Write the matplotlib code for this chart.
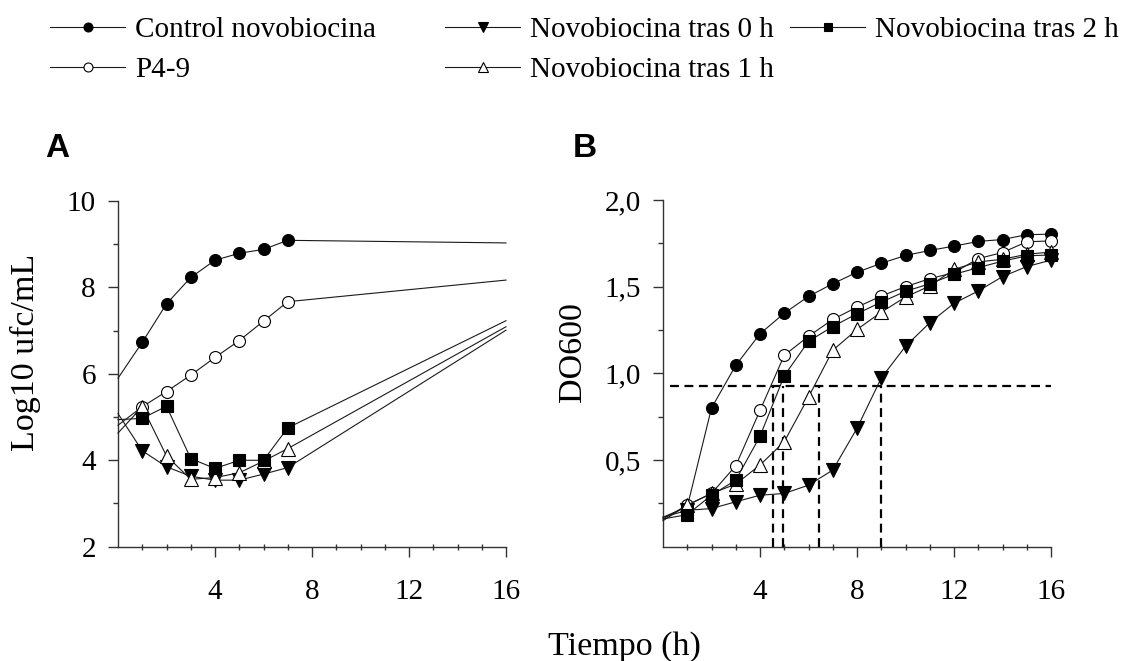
import matplotlib
matplotlib.use("Agg")
import matplotlib.pyplot as plt
from matplotlib.lines import Line2D
from matplotlib.ticker import FixedLocator, FuncFormatter

# ---------------- data ----------------
hours = [0, 1, 2, 3, 4, 5, 6, 7]
hours_a_end = 16

# Panel A: Log10 ufc/mL (value at t=0, 1..7, then 16)
a_control = [5.90, 6.73, 7.62, 8.23, 8.63, 8.79, 8.88, 9.09]
a_p49 = [4.81, 5.24, 5.59, 5.97, 6.38, 6.77, 7.22, 7.67]
a_novo0 = [5.08, 4.22, 3.85, 3.63, 3.54, 3.54, 3.68, 3.83]
a_novo1 = [4.63, 5.24, 4.10, 3.56, 3.60, 3.71, 3.98, 4.27]
a_novo2 = [4.94, 4.97, 5.25, 4.04, 3.81, 4.00, 4.00, 4.75]
a_end = {"control": 9.03, "p49": 8.17, "novo0": 7.01, "novo1": 7.09, "novo2": 7.23}

# Panel B: DO600, t = 0..16
hours_b = list(range(0, 17))
b_control = [0.17, 0.23, 0.80, 1.046, 1.228, 1.347, 1.444, 1.517, 1.583, 1.635,
             1.680, 1.709, 1.734, 1.761, 1.772, 1.800, 1.803]
b_p49 = [0.16, 0.24, 0.307, 0.467, 0.786, 1.104, 1.214, 1.311, 1.382, 1.446,
         1.500, 1.546, 1.581, 1.662, 1.697, 1.759, 1.764]
b_novo0 = [0.17, 0.21, 0.22, 0.259, 0.297, 0.307, 0.355, 0.442, 0.683, 0.973,
           1.156, 1.292, 1.404, 1.475, 1.558, 1.616, 1.653]
b_novo1 = [0.15, 0.24, 0.307, 0.361, 0.471, 0.606, 0.863, 1.133, 1.253, 1.353,
           1.440, 1.504, 1.600, 1.643, 1.658, 1.687, 1.700]
b_novo2 = [0.16, 0.185, 0.297, 0.384, 0.637, 0.986, 1.185, 1.270, 1.344, 1.411,
           1.473, 1.517, 1.571, 1.610, 1.647, 1.678, 1.683]

threshold_od = 0.928
threshold_times = [4.54, 4.96, 6.43, 8.97]

labels = ["Control novobiocina", "P4-9", "Novobiocina tras 0 h",
          "Novobiocina tras 1 h", "Novobiocina tras 2 h"]

# ---------------- style ----------------
SERIF = "Liberation Serif"
styles = {
    "control": dict(marker="o", mfc="black", ms=8.6),
    "p49": dict(marker="o", mfc="white", ms=8.6),
    "novo0": dict(marker="v", mfc="black", ms=9.5),
    "novo1": dict(marker="^", mfc="white", ms=9.5),
    "novo2": dict(marker="s", mfc="black", ms=8.0),
}
LINE = dict(color="#1a1a1a", lw=0.8, mec="black", mew=0.8)

W, H = 1125, 661
fig = plt.figure(figsize=(W / 100, H / 100), dpi=100)


def ax_rect(left, right, top, bottom):
    return [left / W, 1 - bottom / H, (right - left) / W, (bottom - top) / H]


axA = fig.add_axes(ax_rect(118, 506, 201, 546.7))
axB = fig.add_axes(ax_rect(663, 1051, 200, 546.7))


def style_axis(ax):
    for s in ["top", "right"]:
        ax.spines[s].set_visible(False)
    for s in ["left", "bottom"]:
        ax.spines[s].set_linewidth(1.0)
        ax.spines[s].set_color("#333333")
    ax.set_xlim(0, 16)
    ax.xaxis.set_major_locator(FixedLocator([4, 8, 12, 16]))
    ax.xaxis.set_minor_locator(FixedLocator([i for i in range(1, 16) if i % 4]))
    ax.tick_params(axis="x", which="major", direction="out", length=7, width=1,
                   color="#333333", pad=16, labelsize=21)
    ax.tick_params(axis="x", which="minor", direction="inout", length=5, width=1,
                   color="#333333")
    ax.tick_params(axis="y", which="major", direction="out", length=7, width=1,
                   color="#333333", pad=9, labelsize=21)
    ax.tick_params(axis="y", which="minor", direction="out", length=3.5, width=1,
                   color="#333333")
    for lab in ax.get_xticklabels() + ax.get_yticklabels():
        lab.set_fontfamily(SERIF)


# Panel A
seriesA = [("control", a_control), ("p49", a_p49), ("novo0", a_novo0),
           ("novo1", a_novo1), ("novo2", a_novo2)]
for key, vals in seriesA:
    xs = hours + [hours_a_end]
    ys = vals + [a_end[key]]
    axA.plot(xs, ys, markevery=list(range(1, 8)), clip_on=False, zorder=3,
             **styles[key], **LINE)
style_axis(axA)
axA.set_ylim(2, 10)
axA.yaxis.set_major_locator(FixedLocator([2, 4, 6, 8, 10]))
axA.yaxis.set_minor_locator(FixedLocator([3, 5, 7, 9]))
for lab in axA.get_yticklabels():
    lab.set_fontfamily(SERIF)

# Panel B
seriesB = [("control", b_control), ("p49", b_p49), ("novo0", b_novo0),
           ("novo1", b_novo1), ("novo2", b_novo2)]
for key, vals in seriesB:
    axB.plot(hours_b, vals, markevery=list(range(1, 17)), clip_on=False,
             zorder=3, **styles[key], **LINE)
axB.plot([0.28, 16], [threshold_od, threshold_od], color="black", lw=1.6,
         ls=(0, (4, 2.5)), zorder=2)
for t in threshold_times:
    axB.plot([t, t], [0, threshold_od], color="black", lw=1.6,
             ls=(0, (4, 2.5)), zorder=2)
style_axis(axB)
axB.set_ylim(0, 2.0)
axB.yaxis.set_major_locator(FixedLocator([0.5, 1.0, 1.5, 2.0]))
axB.yaxis.set_minor_locator(FixedLocator([0.25, 0.75, 1.25, 1.75]))
axB.yaxis.set_major_formatter(FuncFormatter(lambda v, p: f"{v:.1f}".replace(".", ",")))
for lab in axB.get_yticklabels():
    lab.set_fontfamily(SERIF)

# Axis labels
fig.text(25 / W, 1 - 352 / H, "Log10 ufc/mL", rotation=90, ha="center",
         va="center", fontsize=24.5, family=SERIF)
fig.text(573 / W, 1 - 352 / H, "DO600", rotation=90, ha="center",
         va="center", fontsize=24.5, family=SERIF)
fig.text(624 / W, 1 - 655 / H, "Tiempo (h)", ha="center", va="baseline",
         fontsize=24.5, family=SERIF)

# Panel letters
fig.text(45 / W, 1 - 133 / H, "A", ha="left", va="top", fontsize=24,
         fontweight="bold", family="Liberation Sans")
fig.text(573 / W, 1 - 133 / H, "B", ha="left", va="top", fontsize=24,
         fontweight="bold", family="Liberation Sans")

# Legend (manual placement)
legend_pos = [(50, 27), (50, 67), (445, 27), (445, 67), (790, 27)]
keys = ["control", "p49", "novo0", "novo1", "novo2"]
for (x0, y0), key, lab in zip(legend_pos, keys, labels):
    st = dict(styles[key])
    st["ms"] = st["ms"] * 0.75
    ln = Line2D([x0 / W, (x0 + 75) / W], [1 - y0 / H, 1 - y0 / H],
                transform=fig.transFigure, color="#1a1a1a", lw=0.8)
    fig.add_artist(ln)
    mk = Line2D([(x0 + 37.5) / W], [1 - y0 / H], transform=fig.transFigure,
                ls="none", marker=st["marker"], mfc=st["mfc"], ms=st["ms"],
                mec="black", mew=0.8)
    fig.add_artist(mk)
    fig.text((x0 + 85) / W, 1 - y0 / H, lab, ha="left", va="center_baseline",
             fontsize=21, family=SERIF)

fig.savefig("out.png", dpi=100)
